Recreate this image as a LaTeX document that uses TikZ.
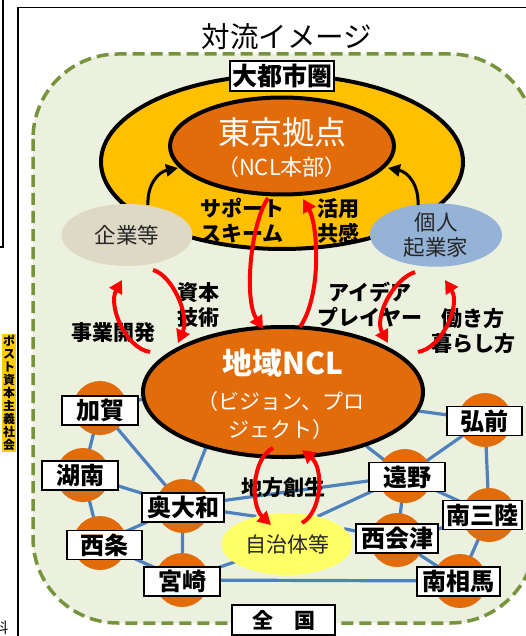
\documentclass[tikz,border=0pt]{standalone}
\usepackage{fontspec}
\setmainfont{Noto Sans CJK JP}
\usetikzlibrary{arrows.meta,shapes.geometric}
\definecolor{orangeC}{RGB}{227,108,10}
\definecolor{yellowC}{RGB}{255,192,0}
\definecolor{netblue}{RGB}{79,129,189}
\definecolor{greyE}{RGB}{221,217,196}
\definecolor{blueE}{RGB}{149,179,215}
\definecolor{lemon}{RGB}{255,255,102}
\definecolor{bgG}{RGB}{235,241,222}
\definecolor{dashG}{RGB}{119,147,60}
\definecolor{tagY}{RGB}{255,204,0}
\pgfdeclarelayer{back}
\pgfdeclarelayer{lines}
\pgfsetlayers{back,lines,main}
\tikzset{
  net/.style={draw=netblue, line width=3.2pt},
  orb/.style={circle, fill=orangeC, minimum size=54pt, inner sep=0pt},
  city/.style={draw=black, line width=1.4pt, fill=white, inner sep=0pt, minimum height=29pt, font=\bfseries\fontsize{24}{26}\selectfont},
  redarr/.style={draw=red, line width=4pt, -{Triangle[length=13pt,width=14pt]}},
  blkarr/.style={draw=black, line width=3pt, -{Triangle[length=12pt,width=12pt]}},
  lbl/.style={font=\bfseries\fontsize{21}{25}\selectfont, align=center, inner sep=0pt},
  bigell/.style={ellipse, draw=black, line width=4pt, inner sep=0pt},
  softell/.style={ellipse, inner sep=0pt},
  wtxt/.style={text=white, align=center, inner sep=0pt},
}
\begin{document}
\begin{tikzpicture}[x=1pt,y=-1pt]
\useasboundingbox (0,0) rectangle (526,636);
\begin{pgfonlayer}{back}
\fill[white] (0,0) rectangle (526,636);
\begin{scope}
\clip (0,0) rectangle (526,636);
\draw[dashG, fill=bgG, line width=3.5pt, dash pattern=on 12pt off 6pt, rounded corners=85pt] (33,54) rectangle (535,623);
\end{scope}
\end{pgfonlayer}

% frames
\draw[line width=1.2pt] (0,247) -- (3,247) -- (3,0);
\draw[line width=1.5pt] (18,636) -- (18,7.5) -- (526,7.5);

% side texts
\node[fill=tagY, inner sep=0pt, minimum width=14pt, minimum height=118pt, font=\bfseries\fontsize{12}{13}\selectfont, align=center] (post) at (9,393) {ポ\\ス\\ト\\資\\本\\主\\義\\社\\会};
\begin{scope}
\clip (0,600) rectangle (18,636);
\node[font=\fontsize{15}{15}\selectfont, inner sep=0pt] (ryo) at (1,628) {料};
\end{scope}

% title
\node[font=\fontsize{28.5}{30}\selectfont, inner sep=0pt] (title) at (287,37) {対流イメージ};

% metro area
\node[bigell, fill=yellowC, minimum width=362pt, minimum height=174pt] (metro) at (282,162) {};
\node[bigell, fill=orangeC, minimum width=224pt, minimum height=97pt] (tokyo) at (282,146) {};
\node[wtxt, font=\fontsize{32}{34}\selectfont] (tokyoT) at (282,132) {東京拠点};
\node[wtxt, font=\fontsize{22}{24}\selectfont] (tokyoS) at (282,167) {（NCL本部）};
\node[draw=black, line width=1.4pt, fill=white, inner sep=0pt, minimum width=104pt, minimum height=30pt, font=\bfseries\fontsize{25}{27}\selectfont] (metroL) at (282,76) {大都市圏};

% companies / individuals
\node[softell, fill=greyE, minimum width=131pt, minimum height=62pt, font=\fontsize{21.5}{24}\selectfont, text=black!85] (kigyo) at (127,235) {企業等};
\node[softell, fill=blueE, minimum width=132pt, minimum height=62pt, font=\fontsize{21.5}{25}\selectfont, text=black!85, align=center] (kojin) at (436,235) {個人\\起業家};

% regional NCL
\node[bigell, fill=orangeC, minimum width=280pt, minimum height=130pt] (ncl) at (283,392) {};
\node[wtxt, font=\bfseries\fontsize{30}{32}\selectfont] (nclT) at (283,363) {地域NCL};
\node[wtxt, font=\fontsize{21}{28}\selectfont] (nclS) at (281,416) {（ビジョン、プロ\\ジェクト）};

% local gov
\node[softell, fill=lemon, minimum width=131pt, minimum height=62pt, font=\fontsize{21}{24}\selectfont, text=black!85] (jichi) at (287,544) {自治体等};

% network circles
\node[orb] (kagaO) at (100,408) {};
\node[orb] (konanO) at (83,475) {};
\node[orb] (okuO) at (183,506) {};
\node[orb] (saijoO) at (100,543) {};
\node[orb] (miyaO) at (182,580) {};
\node[orb] (hiroO) at (485,420) {};
\node[orb] (tonoO) at (405,476) {};
\node[orb] (sanO) at (489,515) {};
\node[orb] (aizuO) at (397,540) {};
\node[orb] (somaO) at (460,581) {};

% network lines
\begin{pgfonlayer}{lines}
\draw[net] (kagaO.center) -- (ncl.183);
\draw[net] (kagaO.center) -- (konanO.center);
\draw[net] (kagaO.center) -- (okuO.center);
\draw[net] (konanO.center) -- (okuO.center);
\draw[net] (konanO.center) -- (saijoO.center);
\draw[net] (saijoO.center) -- (okuO.center);
\draw[net] (saijoO.center) -- (miyaO.center);
\draw[net] (okuO.center) -- (miyaO.center);
\draw[net] (okuO.center) -- (ncl.216);
\draw[net] (okuO.center) -- (tonoO.center);
\draw[net] (okuO.center) -- (jichi.138);
\draw[net] (miyaO.center) -- (jichi.center);
\draw[net] (miyaO.center) -- (somaO.center);
\draw[net] (jichi.42) -- (tonoO.center);
\draw[net] (jichi.15) -- (aizuO.center);
\draw[net] (tonoO.center) -- (ncl.327);
\draw[net] (tonoO.center) -- (hiroO.center);
\draw[net] (tonoO.center) -- (aizuO.center);
\draw[net] (tonoO.center) -- (sanO.center);
\draw[net] (hiroO.center) -- (ncl.352);
\draw[net] (hiroO.center) -- (sanO.center);
\draw[net] (sanO.center) -- (aizuO.center);
\draw[net] (sanO.center) -- (somaO.center);
\draw[net] (aizuO.center) -- (somaO.center);
\end{pgfonlayer}

% city labels
\node[city, minimum width=76pt] (kaga) at (100,410.5) {加賀};
\node[city, minimum width=76pt] (konan) at (80,475.5) {湖南};
\node[city, minimum width=82pt] (oku) at (183,507.5) {奥大和};
\node[city, minimum width=75pt] (saijo) at (104.5,545) {西条};
\node[city, minimum width=76pt] (miya) at (182,581.5) {宮崎};
\node[city, minimum width=75pt] (hiro) at (484.5,421) {弘前};
\node[city, minimum width=76pt] (tono) at (407,477) {遠野};
\node[city, minimum width=79pt] (san) at (482.5,515) {南三陸};
\node[city, minimum width=82pt] (aizu) at (397,538.5) {西会津};
\node[city, minimum width=83pt] (soma) at (458.5,581.5) {南相馬};
\node[draw=black, line width=1.4pt, fill=white, inner sep=0pt, minimum width=103pt, minimum height=30pt, font=\bfseries\fontsize{21}{23}\selectfont] (zenkoku) at (283.5,620) {全　国};

% arrow end points
\coordinate (r1s) at (268,198); \coordinate (r1e) at (263,329);
\coordinate (r2s) at (300,327); \coordinate (r2e) at (303,199);
\coordinate (a1s) at (153,270); \coordinate (a1e) at (178,343);
\coordinate (a2s) at (150,352); \coordinate (a2e) at (122,280);
\coordinate (b1s) at (415,272); \coordinate (b1e) at (388,343);
\coordinate (b2s) at (418,352); \coordinate (b2e) at (445,280);
\coordinate (c1s) at (273,448); \coordinate (c1e) at (271,525);
\coordinate (c2s) at (302,523); \coordinate (c2e) at (302,450);
\coordinate (k1s) at (148,205); \coordinate (k1e) at (178,168);
\coordinate (k2s) at (418,205); \coordinate (k2e) at (388,168);

% black arrows
\draw[blkarr] (k1s) .. controls (147,185) and (158,172) .. (k1e);
\draw[blkarr] (k2s) .. controls (419,185) and (408,172) .. (k2e);

% labels
\node[lbl] (supp) at (242,221) {サポート\\スキーム};
\node[lbl] (katsu) at (338,221) {活用\\共感};
\node[lbl] (shihon) at (198,305) {資本\\技術};
\node[lbl] (jigyo) at (113,333) {事業開発};
\node[lbl] (idea) at (370,305) {アイデア\\プレイヤー};
\node[lbl] (hataraki) at (473,331) {働き方\\暮らし方};
\node[lbl] (chiho) at (283,488) {地方創生};

% red arrows
\draw[redarr] (r1s) .. controls (250,225) and (244,300) .. (r1e);
\draw[redarr] (r2s) .. controls (322,295) and (318,225) .. (r2e);
\draw[redarr] (a1s) .. controls (172,275) and (190,315) .. (a1e);
\draw[redarr] (a2s) .. controls (125,348) and (108,305) .. (a2e);
\draw[redarr] (b1s) .. controls (392,280) and (374,318) .. (b1e);
\draw[redarr] (b2s) .. controls (442,348) and (461,305) .. (b2e);
\draw[redarr] (c1s) .. controls (252,458) and (250,505) .. (c1e);
\draw[redarr] (c2s) .. controls (322,512) and (324,468) .. (c2e);
\end{tikzpicture}
\end{document}
